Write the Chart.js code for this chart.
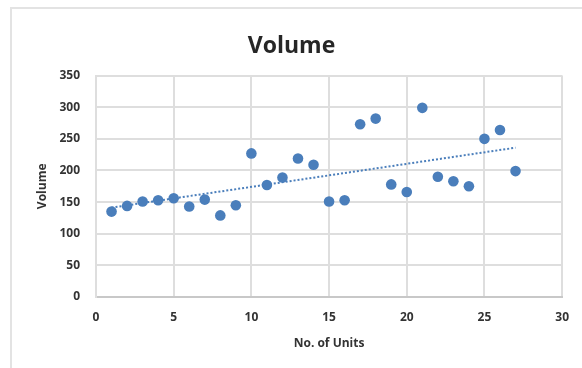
<!DOCTYPE html>
<html>
<head>
<meta charset="utf-8">
<script src="https://cdn.jsdelivr.net/npm/chart.js@4"></script>
<style>
    body { margin: 0; background: #fff; }
    #caja { position: relative; width: 582px; height: 368px; overflow: hidden; }
    #marco { position: absolute; left: 10px; top: 7px; width: 600px; height: 400px;
             border-left: 2px solid #e3e3e3; border-top: 2px solid #e3e3e3; }
    #myChart { position: absolute; left: 0; top: 0; }
</style>
</head>
<body>
<div id="caja">
    <div id="marco"></div>
    <canvas id="myChart" width="582" height="368"></canvas>
</div>
<script>
// datos
const unidades = [1, 2, 3, 4, 5, 6, 7, 8, 9, 10, 11, 12, 13, 14, 15, 16, 17, 18, 19, 20, 21, 22, 23, 24, 25, 26, 27];
const volumen = [135, 144, 151, 153, 156, 143, 154, 129, 145, 227, 177, 189, 219, 209, 151, 153, 273, 282, 178, 166, 299, 190, 183, 175, 250, 264, 199];
const ticksX = [0, 5, 10, 15, 20, 25, 30];
const ticksY = [0, 50, 100, 150, 200, 250, 300, 350];

const azul = '#4a7ebb';
const gris = '#dedede';
const texto = '#333333';
const fuente = 'Open Sans';

// linea de tendencia (minimos cuadrados, como Excel)
function tendencia(xs, ys){
    var n = xs.length;
    var mx = 0, my = 0;
    for (var i = 0; i < n; i++){ mx += xs[i]; my += ys[i]; }
    mx = mx / n; my = my / n;
    var num = 0, den = 0;
    for (var j = 0; j < n; j++){
        num += (xs[j] - mx) * (ys[j] - my);
        den += (xs[j] - mx) * (xs[j] - mx);
    }
    var m = num / den;
    var b = my - m * mx;
    var x0 = Math.min.apply(null, xs), x1 = Math.max.apply(null, xs);
    return [{x: x0, y: m * x0 + b}, {x: x1, y: m * x1 + b}];
}

document.addEventListener('DOMContentLoaded', function(){
    var puntos = unidades.map(function(u, i){ return {x: u, y: volumen[i]}; });
    var ctx = document.getElementById('myChart').getContext('2d');
    var myChart = new Chart(ctx, {
        type: 'scatter',
        data: {
            datasets: [{
                label: 'Volume',
                data: puntos,
                backgroundColor: azul,
                borderColor: azul,
                borderWidth: 0,
                pointRadius: 5.3,
                order: 1
            }, {
                label: 'Tendencia',
                type: 'line',
                data: tendencia(unidades, volumen),
                borderColor: azul,
                borderWidth: 2,
                borderDash: [2, 2],
                pointRadius: 0,
                fill: false,
                order: 2
            }]
        },
        options: {
            responsive: false,
            animation: false,
            devicePixelRatio: 1,
            layout: { padding: { left: 16, right: 15, top: 0, bottom: 0 } },
            plugins: {
                legend: { display: false },
                tooltip: { enabled: false },
                title: {
                    display: true,
                    text: 'Volume',
                    color: '#262626',
                    font: { family: fuente, size: 23, weight: 'bold' },
                    padding: { top: 33, bottom: 15 }
                }
            },
            scales: {
                x: {
                    type: 'linear',
                    min: ticksX[0],
                    max: ticksX[ticksX.length - 1],
                    afterBuildTicks: function(s){ s.ticks = ticksX.map(function(v){ return {value: v}; }); },
                    afterFit: function(s){ s.height = 71; },
                    grid: { color: gris, lineWidth: 2, drawTicks: false },
                    border: { color: '#c8c8c8', width: 2 },
                    ticks: { color: texto, padding: 13, font: { family: fuente, size: 12, weight: 'bold' } },
                    title: {
                        display: true,
                        text: 'No. of Units',
                        color: texto,
                        font: { family: fuente, size: 12, weight: 'bold' },
                        padding: { top: 0, bottom: 17 }
                    }
                },
                y: {
                    min: ticksY[0],
                    max: ticksY[ticksY.length - 1],
                    afterBuildTicks: function(s){ s.ticks = ticksY.map(function(v){ return {value: v}; }); },
                    afterFit: function(s){ s.width = 80; },
                    grid: { color: gris, lineWidth: 2, drawTicks: false },
                    border: { color: gris, width: 2 },
                    ticks: { color: texto, padding: 16, font: { family: fuente, size: 12, weight: 'bold' } },
                    title: {
                        display: true,
                        text: 'Volume',
                        color: texto,
                        font: { family: fuente, size: 12, weight: 'bold' },
                        padding: { top: 19, bottom: 0 }
                    }
                }
            }
        }
    });
});
</script>
</body>
</html>
